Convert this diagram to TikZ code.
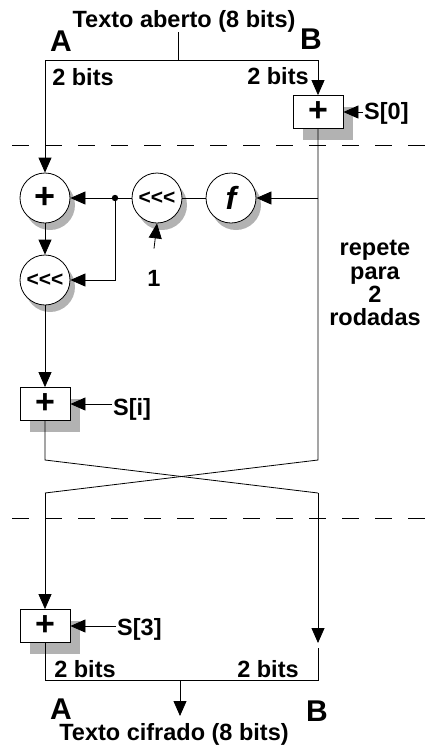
\documentclass[tikz,border=0pt]{standalone}
\usepackage{fontspec}
\setmainfont{Liberation Sans}
\usetikzlibrary{arrows.meta,shadows}
\begin{document}
\begin{tikzpicture}[x=1pt,y=-1pt,
  lbl/.style={font=\fontsize{23.5}{23.5}\selectfont\bfseries, inner sep=0pt},
  big/.style={font=\fontsize{30}{30}\selectfont\bfseries, inner sep=0pt},
  wire/.style={line width=0.8pt},
  arr/.style={wire, -{Triangle[length=15pt,width=13pt]}},
  dashline/.style={line width=0.8pt, dash pattern=on 17pt off 16pt},
  addbox/.style={draw, fill=white, line width=0.8pt, minimum width=50pt, minimum height=33pt,
    inner sep=0pt, font=\fontsize{34}{34}\selectfont\bfseries,
    drop shadow={shadow xshift=10pt, shadow yshift=-11pt, fill=gray!60, opacity=1}},
  opcirc/.style={circle, draw, fill=white, line width=0.8pt, minimum size=50pt, inner sep=0pt,
    drop shadow={shadow xshift=5pt, shadow yshift=-7pt, fill=gray!60, opacity=1}},
]
\useasboundingbox (0,0) rectangle (428,748);

% ---- input ----
\node[lbl,anchor=base] (tin) at (184,27) {Texto aberto (8 bits)};
\node[big,anchor=base] (A1) at (61,51) {A};
\node[big,anchor=base] (B1) at (311,49) {B};
\node[lbl,anchor=base] (bitsA1) at (83,85) {2 bits};
\node[lbl,anchor=base] (bitsB1) at (278,84) {2 bits};

\coordinate (split) at (178,60);
\coordinate (TL) at (45,60);
\coordinate (TR) at (318,60);
\draw[wire] (tin.south -| split) -- (split);
\draw[wire] (TL) -- (TR);

\node[addbox] (s0box) at (318,112) {+};
\node[lbl,anchor=base west] (s0) at (364,119) {S[0]};
\draw[arr] (TR) -- (s0box.north);
\draw[arr] ([xshift=-1pt]s0.west |- s0box.east) -- (s0box.east);

\draw[dashline] (12,145) -- (428,145);

% ---- round ----
\node[opcirc, font=\fontsize{36}{36}\selectfont\bfseries] (add1) at (45,198) {+};
\node[opcirc, font=\fontsize{21}{21}\selectfont\bfseries] (rot1) at (157,198) {{<}{<}{<}};
\node[opcirc, font=\fontsize{32}{32}\selectfont\bfseries\itshape] (fn) at (231,198) {f};
\node[opcirc, font=\fontsize{21}{21}\selectfont\bfseries] (rot2) at (45,280) {{<}{<}{<}};

\coordinate (dot) at (115,198);
\coordinate (fin) at (318,198);
\fill (dot) circle (3.2);

\draw[arr] (TL) -- (add1.north);
\draw[wire] (rot1.west) -- (dot);
\draw[arr] (dot) -- (add1.east);
\draw[wire] (rot1.east) -- (fn.west);
\draw[arr] (fin) -- (fn.east);
\draw[arr] (add1.south) -- (rot2.north);
\draw[arr] (dot) |- (rot2.east);

\node[lbl,anchor=base] (one) at (154,286) {1};
\draw[arr] ([yshift=21pt]one.north) -- (rot1.south);

\node[addbox] (sibox) at (45,404) {+};
\node[lbl,anchor=base west] (si) at (113,415) {S[i]};
\draw[arr] (rot2.south) -- (sibox.north);
\draw[arr] ([xshift=-1pt]si.west |- sibox.east) -- (sibox.east);

\node[lbl,align=center,anchor=center] (rep) at (375,283) {repete\\[-0.4pt]para\\[-0.4pt]2\\[-0.4pt]rodadas};

% ---- swap ----
\coordinate (xL1) at (45,460);
\coordinate (xR1) at (318,460);
\coordinate (xL2) at (45,493);
\coordinate (xR2) at (318,493);
\draw[wire] (sibox.south) -- (xL1) -- (xR2);
\draw[wire] (s0box.south) -- (xR1) -- (xL2);

\draw[dashline] (12,518) -- (428,518);

% ---- output ----
\node[addbox] (s3box) at (45,626) {+};
\node[lbl,anchor=base west] (s3) at (117,635) {S[3]};
\draw[arr] (xL2) -- (s3box.north);
\draw[arr] ([xshift=-1pt]s3.west |- s3box.east) -- (s3box.east);

\coordinate (rTip) at (318,643);
\coordinate (rRes) at (318,648);
\coordinate (BR) at (318,680);
\coordinate (BL) at (45,680);
\coordinate (osplit) at (180,680);
\coordinate (oTip) at (180,716);
\draw[arr] (xR2) -- (rTip);
\draw[wire] (rRes) -- (BR) -- (BL) -- (s3box.south);
\draw[arr] (osplit) -- (oTip);

\node[lbl,anchor=base] (bitsA2) at (85,677) {2 bits};
\node[lbl,anchor=base] (bitsB2) at (268,677) {2 bits};
\node[big,anchor=base] (A2) at (61,719) {A};
\node[big,anchor=base] (B2) at (317,721) {B};
\node[lbl,anchor=base] (tout) at (174,740) {Texto cifrado (8 bits)};
\end{tikzpicture}
\end{document}
